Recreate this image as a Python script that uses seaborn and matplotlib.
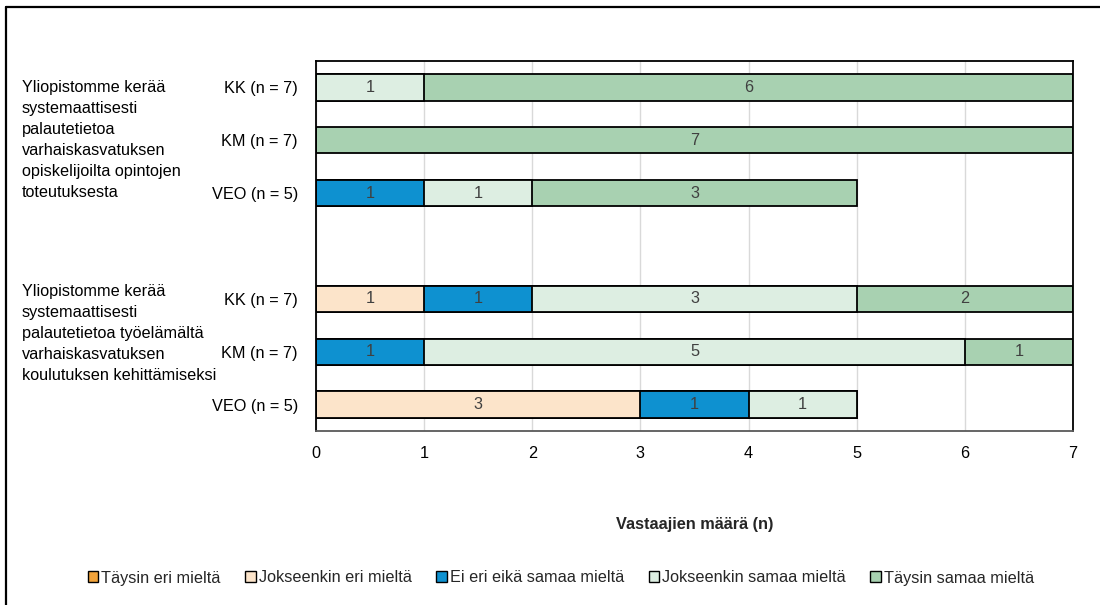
import numpy as np
import pandas as pd
import matplotlib
matplotlib.use("Agg")
import matplotlib.pyplot as plt
import matplotlib.transforms as mtransforms
from matplotlib.lines import Line2D
from matplotlib.patches import Patch
import seaborn as sns

# Row slots (top to bottom); "gap" is an empty spacer between the two questions
rows = ["q1_kk", "q1_km", "q1_veo", "gap", "q2_kk", "q2_km", "q2_veo"]
row_labels = ["KK (n = 7)", "KM (n = 7)", "VEO (n = 5)", "",
              "KK (n = 7)", "KM (n = 7)", "VEO (n = 5)"]
data_rows = ["q1_kk", "q1_km", "q1_veo", "q2_kk", "q2_km", "q2_veo"]

categories = ["Täysin eri mieltä", "Jokseenkin eri mieltä",
              "Ei eri eikä samaa mieltä", "Jokseenkin samaa mieltä",
              "Täysin samaa mieltä"]
colors = ["#F2A33A", "#FCE4CA", "#0E91D0", "#DDEEE2", "#A8D1B1"]

taysin_eri = [0, 0, 0, 0, 0, 0]
jokseenkin_eri = [0, 0, 0, 1, 0, 3]
ei_eri_eika_samaa = [0, 0, 1, 1, 1, 1]
jokseenkin_samaa = [1, 0, 1, 3, 5, 1]
taysin_samaa = [6, 7, 3, 2, 1, 0]

questions = [
    "Yliopistomme kerää\nsystemaattisesti\npalautetietoa\nvarhaiskasvatuksen\nopiskelijoilta opintojen\ntoteutuksesta",
    "Yliopistomme kerää\nsystemaattisesti\npalautetietoa työelämältä\nvarhaiskasvatuksen\nkoulutuksen kehittämiseksi",
]
question_rows = [1.0, 4.65]

x_ticks = [0, 1, 2, 3, 4, 5, 6, 7]
x_label = "Vastaajien määrä (n)"

sns.set_theme(style="white")
plt.rcParams["font.family"] = ["Liberation Sans", "DejaVu Sans"]
FS = 11.7

W, H = 1100, 605
fig = plt.figure(figsize=(W / 100, H / 100), dpi=100)
ax = fig.add_axes([316 / W, 1 - 431 / H, (1073 - 316) / W, (431 - 61) / H])

counts = np.array([taysin_eri, jokseenkin_eri, ei_eri_eika_samaa,
                   jokseenkin_samaa, taysin_samaa], dtype=float)
cum = counts.cumsum(axis=0)

ax.set_axisbelow(True)
ax.grid(axis="x", color="#D9D9D9", linewidth=1.0)

# Stacked bars: draw cumulative totals from the outermost segment inwards
for k in range(len(categories) - 1, -1, -1):
    df = pd.DataFrame({"row": data_rows, "value": cum[k]})
    sns.barplot(data=df, x="value", y="row", order=rows, orient="h",
                color=colors[k], saturation=1, width=0.5, errorbar=None,
                edgecolor="black", linewidth=1.3, ax=ax)

# Segment value labels
pos = {r: i for i, r in enumerate(rows)}
for k in range(len(categories)):
    for j, r in enumerate(data_rows):
        v = counts[k, j]
        if v > 0:
            ax.text(cum[k, j] - v / 2, pos[r], f"{int(v)}", ha="center",
                    va="center", fontsize=FS, color="#404040")

ax.set_xlim(0, 7)
ax.set_ylim(len(rows) - 0.5, -0.5)
ax.set_xticks(x_ticks)
ax.set_xticklabels([str(t) for t in x_ticks], fontsize=FS, color="black")
ax.set_yticks(range(len(rows)))
ax.set_yticklabels(row_labels, fontsize=FS, color="black")
ax.tick_params(axis="y", length=0, pad=13)
ax.tick_params(axis="x", length=0, pad=11)
ax.set_ylabel("")
ax.set_xlabel(x_label, fontsize=FS, fontweight="bold", labelpad=40)
for s in ax.spines.values():
    s.set_visible(True)
    s.set_color("black")
    s.set_linewidth(1.3)
ax.spines["bottom"].set_color("#595959")

# Question labels at the far left
tr = mtransforms.blended_transform_factory(fig.transFigure, ax.transData)
for text, y in zip(questions, question_rows):
    ax.text(22 / W, y, text, transform=tr, ha="left", va="center",
            fontsize=FS, linespacing=1.5, color="black")

# Legend
handles = [Patch(facecolor=c, edgecolor="black", linewidth=1.0) for c in colors]
fig.legend(handles, categories, loc="center", bbox_to_anchor=(561 / W, 1 - 578 / H),
           ncol=5, frameon=False, fontsize=FS, handlelength=0.65,
           handleheight=0.65, handletextpad=0.2, columnspacing=1.5)

# Chart area border
fig.add_artist(Line2D([6 / W, 1], [1 - 7 / H, 1 - 7 / H], transform=fig.transFigure,
                      color="black", linewidth=1.6))
fig.add_artist(Line2D([6 / W, 6 / W], [0, 1 - 7 / H], transform=fig.transFigure,
                      color="black", linewidth=1.6))

fig.savefig("out.png", dpi=100, facecolor="white")
